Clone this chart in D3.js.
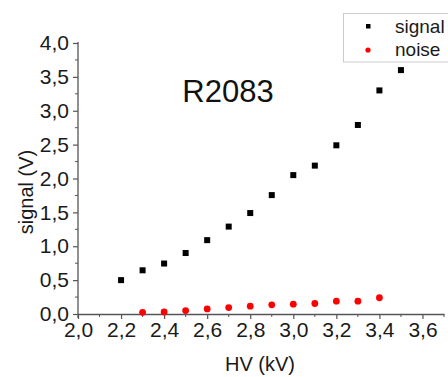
<!DOCTYPE html>
<html><head><meta charset="utf-8">
<script src="https://cdn.jsdelivr.net/npm/d3@7"></script>
<style>
body{margin:0;background:#fff;}
svg{display:block;font-family:"Liberation Sans",Arial,sans-serif;}
</style></head>
<body><svg id="c" width="448" height="377"></svg>
<script>
const hv = [2.2,2.3,2.4,2.5,2.6,2.7,2.8,2.9,3.0,3.1,3.2,3.3,3.4,3.5];
const signal = [0.50,0.645,0.745,0.90,1.09,1.29,1.49,1.755,2.05,2.19,2.49,2.79,3.30,3.60];
const hvNoise = [2.3,2.4,2.5,2.6,2.7,2.8,2.9,3.0,3.1,3.2,3.3,3.4];
const noise = [0.025,0.03,0.05,0.075,0.095,0.115,0.135,0.145,0.155,0.19,0.19,0.24];
const xTicks = [2.0,2.2,2.4,2.6,2.8,3.0,3.2,3.4,3.6];
const yTicks = [0,0.5,1.0,1.5,2.0,2.5,3.0,3.5,4.0];
const seriesNames = ["signal","noise"];
const titleText = "R2083";

const svg = d3.select("#c");
const x = d3.scaleLinear().domain([2.0,3.7]).range([78,444]);
const y = d3.scaleLinear().domain([0,4.0]).range([314,43]);
const fmt = d => d.toFixed(1).replace(".", ",");
const axisCol = "#555";

// minor ticks
const xMinor = d3.range(2.1,3.75,0.2).map(v=>+v.toFixed(2));
const yMinor = d3.range(0.25,4.0,0.5).map(v=>+v.toFixed(2));
svg.append("g").selectAll("line").data(xMinor).join("line")
  .attr("x1",d=>x(d)).attr("x2",d=>x(d)).attr("y1",314).attr("y2",317)
  .attr("stroke",axisCol).attr("stroke-width",1);
svg.append("g").selectAll("line").data(yMinor).join("line")
  .attr("y1",d=>y(d)).attr("y2",d=>y(d)).attr("x1",78).attr("x2",75)
  .attr("stroke",axisCol).attr("stroke-width",1);

const xa = svg.append("g").attr("transform","translate(0,314)")
  .call(d3.axisBottom(x).tickValues(xTicks).tickFormat(fmt).tickSize(5).tickPadding(3).tickSizeOuter(0));
const ya = svg.append("g").attr("transform","translate(78,0)")
  .call(d3.axisLeft(y).tickValues(yTicks).tickFormat(fmt).tickSize(5).tickPadding(4).tickSizeOuter(0));
[xa,ya].forEach(g=>{
  g.select(".domain").attr("stroke",axisCol).attr("stroke-width",1.3);
  g.selectAll(".tick line").attr("stroke",axisCol).attr("stroke-width",1.2);
  g.selectAll("text").attr("font-size",21).attr("fill","#1a1a1a").attr("font-family","Liberation Sans, Arial, sans-serif");
});
ya.select(".domain").attr("d","M0,318V42");

// axis labels
svg.append("text").attr("x",260).attr("y",371).attr("text-anchor","middle")
  .attr("font-size",20).attr("fill","#1a1a1a").text("HV (kV)");
svg.append("text").attr("transform","translate(33,192) rotate(-90)").attr("text-anchor","middle")
  .attr("font-size",20).attr("fill","#1a1a1a").text("signal (V)");

// title
svg.append("text").attr("x",228).attr("y",102).attr("text-anchor","middle")
  .attr("font-size",31).attr("fill","#111").text(titleText);

// data
svg.append("g").selectAll("rect").data(hv.map((h,i)=>[h,signal[i]])).join("rect")
  .attr("x",d=>x(d[0])-3).attr("y",d=>y(d[1])-3).attr("width",6).attr("height",6).attr("fill","#000");
svg.append("g").selectAll("circle").data(hvNoise.map((h,i)=>[h,noise[i]])).join("circle")
  .attr("cx",d=>x(d[0])).attr("cy",d=>y(d[1])).attr("r",3.4).attr("fill","#f00");

// legend
const lg = svg.append("g");
lg.append("rect").attr("x",343.5).attr("y",13.5).attr("width",110).attr("height",48.5)
  .attr("fill","#fff").attr("stroke","#ccc").attr("stroke-width",1);
lg.append("rect").attr("x",366).attr("y",24).attr("width",4.5).attr("height",4.5).attr("fill","#000");
lg.append("circle").attr("cx",368).attr("cy",50).attr("r",2.6).attr("fill","#f00");
lg.selectAll("text.l").data(seriesNames).join("text").attr("class","l")
  .attr("x",395).attr("y",(d,i)=>33+i*23).attr("font-size",19).attr("fill","#1a1a1a").text(d=>d);
</script></body></html>
